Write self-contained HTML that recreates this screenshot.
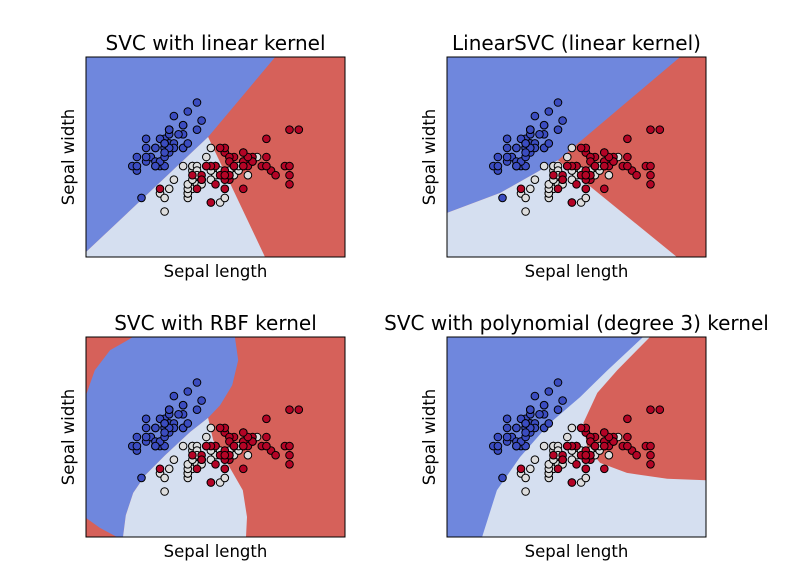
<!DOCTYPE html>
<html><head><meta charset="utf-8"><style>
html,body{margin:0;padding:0;background:#fff;}
svg{display:block;font-family:"DejaVu Sans","Liberation Sans",sans-serif;}
</style></head><body>
<svg id="fig" width="803" height="584" viewBox="0 0 803 584" xmlns="http://www.w3.org/2000/svg"></svg>
<script>
// Iris data (sepal length, sepal width)
const setosaX=[5.1,4.9,4.7,4.6,5.0,5.4,4.6,5.0,4.4,4.9,5.4,4.8,4.8,4.3,5.8,5.7,5.4,5.1,5.7,5.1,5.4,5.1,4.6,5.1,4.8,5.0,5.0,5.2,5.2,4.7,4.8,5.4,5.2,5.5,4.9,5.0,5.5,4.9,4.4,5.1,5.0,4.5,4.4,5.0,5.1,4.8,5.1,4.6,5.3,5.0];
const setosaY=[3.5,3.0,3.2,3.1,3.6,3.9,3.4,3.4,2.9,3.1,3.7,3.4,3.0,3.0,4.0,4.4,3.9,3.5,3.8,3.8,3.4,3.7,3.6,3.3,3.4,3.0,3.4,3.5,3.4,3.2,3.1,3.4,4.1,4.2,3.1,3.2,3.5,3.6,3.0,3.4,3.5,2.3,3.2,3.5,3.8,3.0,3.8,3.2,3.7,3.3];
const versiX=[7.0,6.4,6.9,5.5,6.5,5.7,6.3,4.9,6.6,5.2,5.0,5.9,6.0,6.1,5.6,6.7,5.6,5.8,6.2,5.6,5.9,6.1,6.3,6.1,6.4,6.6,6.8,6.7,6.0,5.7,5.5,5.5,5.8,6.0,5.4,6.0,6.7,6.3,5.6,5.5,5.5,6.1,5.8,5.0,5.6,5.7,5.7,6.2,5.1,5.7];
const versiY=[3.2,3.2,3.1,2.3,2.8,2.8,3.3,2.4,2.9,2.7,2.0,3.0,2.2,2.9,2.9,3.1,3.0,2.7,2.2,2.5,3.2,2.8,2.5,2.8,2.9,3.0,2.8,3.0,2.9,2.6,2.4,2.4,2.7,2.7,3.0,3.4,3.1,2.3,3.0,2.5,2.6,3.0,2.6,2.3,2.7,3.0,2.9,2.9,2.5,2.8];
const virgX=[6.3,5.8,7.1,6.3,6.5,7.6,4.9,7.3,6.7,7.2,6.5,6.4,6.8,5.7,5.8,6.4,6.5,7.7,7.7,6.0,6.9,5.6,7.7,6.3,6.7,7.2,6.2,6.1,6.4,7.2,7.4,7.9,6.4,6.3,6.1,7.7,6.3,6.4,6.0,6.9,6.7,6.9,5.8,6.8,6.7,6.7,6.3,6.5,6.2,5.9];
const virgY=[3.3,2.7,3.0,2.9,3.0,3.0,2.5,2.9,2.5,3.6,3.2,2.7,3.0,2.5,2.8,3.2,3.0,3.8,2.6,2.2,3.2,2.8,2.8,2.7,3.3,3.2,2.8,3.0,2.8,3.0,2.8,3.8,2.8,2.8,2.6,3.0,3.4,3.1,3.0,3.1,3.1,3.1,2.7,3.2,3.3,3.0,2.5,3.0,3.4,3.0];

const titles=["SVC with linear kernel","LinearSVC (linear kernel)","SVC with RBF kernel","SVC with polynomial (degree 3) kernel"];
const xDomain=[3.3,8.9], yDomain=[1.0,5.4];

// Decision region boundaries (data coordinates) per panel
const p0Bg="red";
const p0Blue=[[3.3,5.4],[7.39,5.4],[5.94,3.64],[3.3,1.11]];
const p0White=[[3.3,1.11],[5.94,3.64],[7.17,1.0],[3.3,1.0]];
const p1Bg="red";
const p1Blue=[[3.3,5.4],[8.34,5.4],[5.70,3.13],[4.45,2.41],[3.3,1.97]];
const p1White=[[3.3,1.97],[4.45,2.41],[5.70,3.13],[8.27,1.0],[3.3,1.0]];
const p2Bg="red";
const p2Blue=[[3.3,4.12],[3.49,4.67],[3.82,5.11],[4.32,5.4],[6.52,5.4],[6.59,4.89],[6.46,4.34],[6.20,3.90],[5.94,3.62],[5.55,3.31],[5.01,2.80],[4.58,2.36],[4.32,1.97],[4.16,1.48],[4.10,1.0],[3.97,1.0],[3.60,1.20],[3.3,1.42]];
const p2White=[[5.94,3.62],[5.55,3.31],[5.01,2.80],[4.58,2.36],[4.32,1.97],[4.16,1.48],[4.10,1.0],[6.76,1.0],[6.78,1.44],[6.69,2.03],[6.35,2.63],[6.05,3.13]];
const p3Bg="white";
const p3Blue=[[3.3,5.4],[7.54,5.4],[6.77,4.67],[6.18,4.08],[5.53,3.51],[4.88,2.76],[4.38,2.03],[4.06,1.0],[3.3,1.0]];
const p3Red=[[7.69,5.4],[8.9,5.4],[8.9,2.25],[8.06,2.28],[7.19,2.41],[6.61,2.63],[6.33,2.98],[6.25,3.51],[6.55,4.17],[6.98,4.67]];

const COL={blue:"#6f87dd",white:"#d5dff0",red:"#d6615a"};
const panels=[
 {l:86,t:57,bg:p0Bg,polys:[[p0Blue,"blue"],[p0White,"white"]]},
 {l:447,t:57,bg:p1Bg,polys:[[p1Blue,"blue"],[p1White,"white"]]},
 {l:86,t:337,bg:p2Bg,polys:[[p2Blue,"blue"],[p2White,"white"]]},
 {l:447,t:337,bg:p3Bg,polys:[[p3Blue,"blue"],[p3Red,"red"]]}
];
const W=259,H=200;
const NS="http://www.w3.org/2000/svg";
const svg=document.getElementById('fig');
function mk(tag,attrs,parent){const e=document.createElementNS(NS,tag);for(const k in attrs)e.setAttribute(k,attrs[k]);(parent||svg).appendChild(e);return e;}

panels.forEach((p,i)=>{
  const sx=v=>p.l+(v-xDomain[0])/(xDomain[1]-xDomain[0])*W;
  const sy=v=>p.t+H-(v-yDomain[0])/(yDomain[1]-yDomain[0])*H;
  const g=mk('g',{});
  
  
  const cid='clip'+i;
  const cp=mk('clipPath',{id:cid},g);mk('rect',{x:p.l,y:p.t,width:W,height:H},cp);
  const bg=mk('rect',{x:p.l,y:p.t,width:W,height:H,fill:COL[p.bg]},g);
  
  
  p.polys.forEach(([pts,c])=>{
    const poly=mk('polygon',{points:pts.map(q=>sx(q[0]).toFixed(1)+','+sy(q[1]).toFixed(1)).join(' '),fill:COL[c],'clip-path':'url(#'+cid+')'},g);
    
    
  });
  const groups=[[setosaX,setosaY,"#3b4cc0","setosa"],[versiX,versiY,"#dddddd","versicolor"],[virgX,virgY,"#b40426","virginica"]];
  groups.forEach(([xs,ys,c,name])=>{
    xs.forEach((x,j)=>{
      const pt=mk('circle',{cx:sx(x).toFixed(1),cy:sy(ys[j]).toFixed(1),r:3.8,fill:c,stroke:"#000","stroke-width":1},g);
      
      
    });
  });
  const fr=mk('rect',{x:p.l,y:p.t,width:W,height:H,fill:"none",stroke:"#000","stroke-width":1},g);
  
  
  const tt=mk('text',{x:p.l+W/2,y:p.t-7,'text-anchor':'middle','font-size':20,fill:"#000"},g);
  tt.textContent=titles[i];
  
  
  const xl=mk('text',{x:p.l+W/2,y:p.t+H+20,'text-anchor':'middle','font-size':16.5,fill:"#000"},g);
  xl.textContent="Sepal length";
  
  
  const yx=p.l-12, yy=p.t+H/2;
  const yl=mk('text',{x:yx,y:yy,'text-anchor':'middle','font-size':16.5,fill:"#000",transform:'rotate(-90 '+yx+' '+yy+')'},g);
  yl.textContent="Sepal width";
  
  
});
</script>
</body></html>
